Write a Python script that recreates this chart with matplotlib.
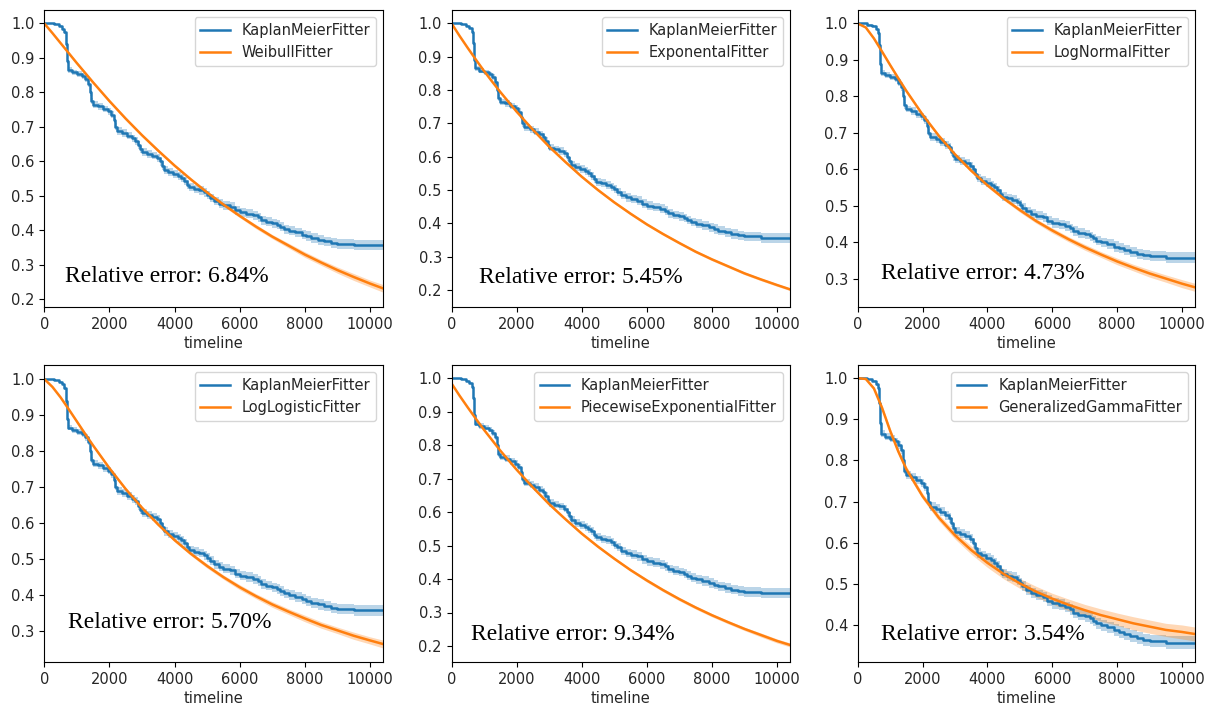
import matplotlib
matplotlib.use("Agg")
import matplotlib.pyplot as plt
import numpy as np

# Kaplan-Meier estimate (step function) shared by every panel
km_time = [0, 300, 450, 550, 620, 660, 690, 720, 850, 1000,
           1150, 1250, 1330, 1400, 1440, 1500, 1650, 1800, 1950, 2050,
           2130, 2180, 2230, 2400, 2550, 2700, 2800, 2880, 2950, 3000,
           3150, 3300, 3450, 3550, 3620, 3680, 3800, 3950, 4100, 4200,
           4300, 4380, 4450, 4600, 4750, 4900, 5000, 5080, 5200, 5350,
           5500, 5700, 5850, 6000, 6200, 6400, 6550, 6650, 6800, 7000,
           7150, 7250, 7350, 7500, 7700, 7900, 8050, 8200, 8400, 8600,
           8800, 9000, 9500, 10400]
km_surv = [1.000, 0.997, 0.993, 0.985, 0.975, 0.940, 0.890, 0.865, 0.858, 0.853,
           0.847, 0.838, 0.825, 0.800, 0.775, 0.765, 0.760, 0.752, 0.745, 0.735,
           0.720, 0.700, 0.688, 0.682, 0.675, 0.667, 0.660, 0.648, 0.635, 0.627,
           0.622, 0.617, 0.610, 0.600, 0.588, 0.576, 0.569, 0.563, 0.557, 0.551,
           0.543, 0.533, 0.525, 0.520, 0.516, 0.510, 0.503, 0.495, 0.485, 0.478,
           0.473, 0.468, 0.459, 0.453, 0.449, 0.444, 0.438, 0.430, 0.425, 0.421,
           0.416, 0.410, 0.404, 0.399, 0.394, 0.388, 0.383, 0.378, 0.373, 0.368,
           0.364, 0.361, 0.357, 0.357]
km_ci = [0.000, 0.001, 0.002, 0.003, 0.005, 0.006, 0.007, 0.008, 0.008, 0.008,
         0.008, 0.009, 0.009, 0.009, 0.009, 0.009, 0.010, 0.010, 0.010, 0.010,
         0.010, 0.010, 0.011, 0.011, 0.011, 0.011, 0.011, 0.011, 0.011, 0.011,
         0.011, 0.011, 0.011, 0.012, 0.012, 0.012, 0.012, 0.012, 0.012, 0.012,
         0.012, 0.012, 0.012, 0.012, 0.012, 0.012, 0.012, 0.012, 0.012, 0.013,
         0.013, 0.013, 0.013, 0.013, 0.013, 0.013, 0.013, 0.013, 0.013, 0.013,
         0.013, 0.013, 0.013, 0.013, 0.014, 0.014, 0.014, 0.014, 0.014, 0.014,
         0.014, 0.014, 0.015, 0.015]

# Timeline on which the parametric survival functions are evaluated
fit_time = [0, 250, 500, 750, 1000, 1250, 1500, 2000, 2500, 3000, 3500, 4000,
            4500, 5000, 5500, 6000, 6500, 7000, 7500, 8000, 8500, 9000, 9500,
            10000, 10400]

weibull = [1.000, 0.972, 0.943, 0.914, 0.885, 0.857, 0.829, 0.775, 0.724, 0.676,
           0.631, 0.588, 0.548, 0.510, 0.475, 0.442, 0.411, 0.382, 0.356, 0.330,
           0.307, 0.285, 0.265, 0.246, 0.232]
weibull_ci = [0.000, 0.002, 0.003, 0.004, 0.004, 0.004, 0.004, 0.004, 0.004, 0.004,
              0.004, 0.004, 0.004, 0.004, 0.005, 0.005, 0.006, 0.006, 0.007, 0.008,
              0.008, 0.009, 0.010, 0.010, 0.011]

exponential = [1.000, 0.962, 0.926, 0.891, 0.857, 0.825, 0.794, 0.735, 0.681, 0.630,
               0.584, 0.540, 0.500, 0.463, 0.429, 0.397, 0.368, 0.341, 0.315, 0.292,
               0.271, 0.250, 0.232, 0.215, 0.202]
exponential_ci = [0.000, 0.001, 0.001, 0.002, 0.002, 0.002, 0.003, 0.003, 0.004, 0.004,
                  0.004, 0.004, 0.004, 0.004, 0.004, 0.004, 0.004, 0.004, 0.004, 0.004,
                  0.004, 0.004, 0.004, 0.004, 0.004]

lognormal = [1.000, 0.989, 0.959, 0.923, 0.886, 0.850, 0.815, 0.750, 0.692, 0.641,
             0.596, 0.556, 0.520, 0.488, 0.458, 0.432, 0.408, 0.386, 0.366, 0.347,
             0.330, 0.314, 0.300, 0.286, 0.276]
lognormal_ci = [0.000, 0.001, 0.002, 0.003, 0.004, 0.004, 0.004, 0.004, 0.004, 0.004,
                0.004, 0.005, 0.005, 0.006, 0.006, 0.007, 0.007, 0.008, 0.008, 0.009,
                0.009, 0.010, 0.010, 0.011, 0.011]

loglogistic = [1.000, 0.978, 0.949, 0.916, 0.882, 0.848, 0.815, 0.752, 0.694, 0.642,
               0.595, 0.552, 0.514, 0.480, 0.449, 0.421, 0.396, 0.373, 0.353, 0.334,
               0.316, 0.301, 0.286, 0.273, 0.263]
loglogistic_ci = [0.000, 0.001, 0.002, 0.003, 0.004, 0.004, 0.004, 0.004, 0.004, 0.004,
                  0.004, 0.005, 0.005, 0.006, 0.006, 0.007, 0.007, 0.008, 0.008, 0.009,
                  0.009, 0.009, 0.010, 0.010, 0.011]

piecewise = [0.985, 0.948, 0.913, 0.879, 0.846, 0.815, 0.784, 0.727, 0.674, 0.624,
             0.579, 0.536, 0.497, 0.461, 0.427, 0.396, 0.367, 0.340, 0.315, 0.292,
             0.271, 0.251, 0.233, 0.215, 0.203]
piecewise_ci = [0.002, 0.002, 0.002, 0.003, 0.003, 0.003, 0.003, 0.003, 0.004, 0.004,
                0.004, 0.004, 0.004, 0.004, 0.004, 0.005, 0.005, 0.005, 0.005, 0.005,
                0.005, 0.005, 0.006, 0.006, 0.006]

gengamma = [1.000, 0.998, 0.975, 0.928, 0.872, 0.822, 0.779, 0.713, 0.661, 0.618,
            0.582, 0.551, 0.524, 0.501, 0.481, 0.464, 0.449, 0.436, 0.424, 0.414,
            0.404, 0.396, 0.388, 0.383, 0.378]
gengamma_ci = [0.000, 0.001, 0.004, 0.006, 0.007, 0.007, 0.007, 0.007, 0.008, 0.009,
               0.010, 0.011, 0.012, 0.012, 0.013, 0.013, 0.014, 0.014, 0.015, 0.015,
               0.016, 0.016, 0.016, 0.017, 0.017]

model_names = ["WeibullFitter", "ExponentalFitter", "LogNormalFitter",
               "LogLogisticFitter", "PiecewiseExponentialFitter", "GeneralizedGammaFitter"]
model_surv = [weibull, exponential, lognormal, loglogistic, piecewise, gengamma]
model_ci = [weibull_ci, exponential_ci, lognormal_ci, loglogistic_ci, piecewise_ci, gengamma_ci]
rel_errors = ["6.84", "5.45", "4.73", "5.70", "9.34", "3.54"]

y_limits = [(0.178, 1.039), (0.149, 1.040), (0.222, 1.037),
            (0.213, 1.039), (0.152, 1.040), (0.310, 1.032)]
y_ticks = [np.arange(0.2, 1.01, 0.1), np.arange(0.2, 1.01, 0.1), np.arange(0.3, 1.01, 0.1),
           np.arange(0.3, 1.01, 0.1), np.arange(0.2, 1.01, 0.1), np.arange(0.4, 1.01, 0.1)]
text_pos = [(0.061, 0.084), (0.081, 0.082), (0.068, 0.094),
            (0.071, 0.114), (0.057, 0.074), (0.069, 0.074)]

W, H = 1211, 708
fig = plt.figure(figsize=(W / 100, H / 100), dpi=100)

col_left = [44.3, 451.5, 857.7]
col_right = [383, 790, 1195]
row_top = [10, 365]
row_bottom = [307, 662]

blue = "#1f77b4"
orange = "#ff7f0e"
tick_grey = "#262626"
km_t = np.array(km_time)
km_s = np.array(km_surv)
km_h = np.array(km_ci)

for i in range(6):
    r, c = divmod(i, 3)
    left = col_left[c] / W
    width = (col_right[c] - col_left[c]) / W
    bottom = 1 - row_bottom[r] / H
    height = (row_bottom[r] - row_top[r]) / H
    ax = fig.add_axes([left, bottom, width, height])

    ax.fill_between(km_t, km_s - km_h, km_s + km_h, step="post",
                    color=blue, alpha=0.3, linewidth=0)
    ax.plot(km_t, km_s, drawstyle="steps-post", color=blue, lw=1.8,
            label="KaplanMeierFitter")

    ft = np.array(fit_time)
    fs = np.array(model_surv[i])
    fh = np.array(model_ci[i])
    ax.fill_between(ft, fs - fh, fs + fh, color=orange, alpha=0.3, linewidth=0)
    ax.plot(ft, fs, color=orange, lw=1.8, label=model_names[i])

    ax.set_xlim(0, 10400)
    ax.set_ylim(*y_limits[i])
    ax.set_xticks([0, 2000, 4000, 6000, 8000, 10000])
    ax.set_yticks(y_ticks[i])
    ax.set_yticklabels([f"{v:.1f}" for v in y_ticks[i]])
    ax.tick_params(labelsize=10.5, labelcolor=tick_grey)
    ax.set_xlabel("timeline", fontsize=10.5, labelpad=3, color=tick_grey)
    leg = ax.legend(loc="upper right", fontsize=10.5)
    for txt in leg.get_texts():
        txt.set_color(tick_grey)

    tx, ty = text_pos[i]
    ax.text(tx, ty, f"Relative error: {rel_errors[i]}%", transform=ax.transAxes,
            family=["Liberation Serif", "DejaVu Serif"], fontsize=17, va="baseline")

fig.savefig("out.png", dpi=100)
